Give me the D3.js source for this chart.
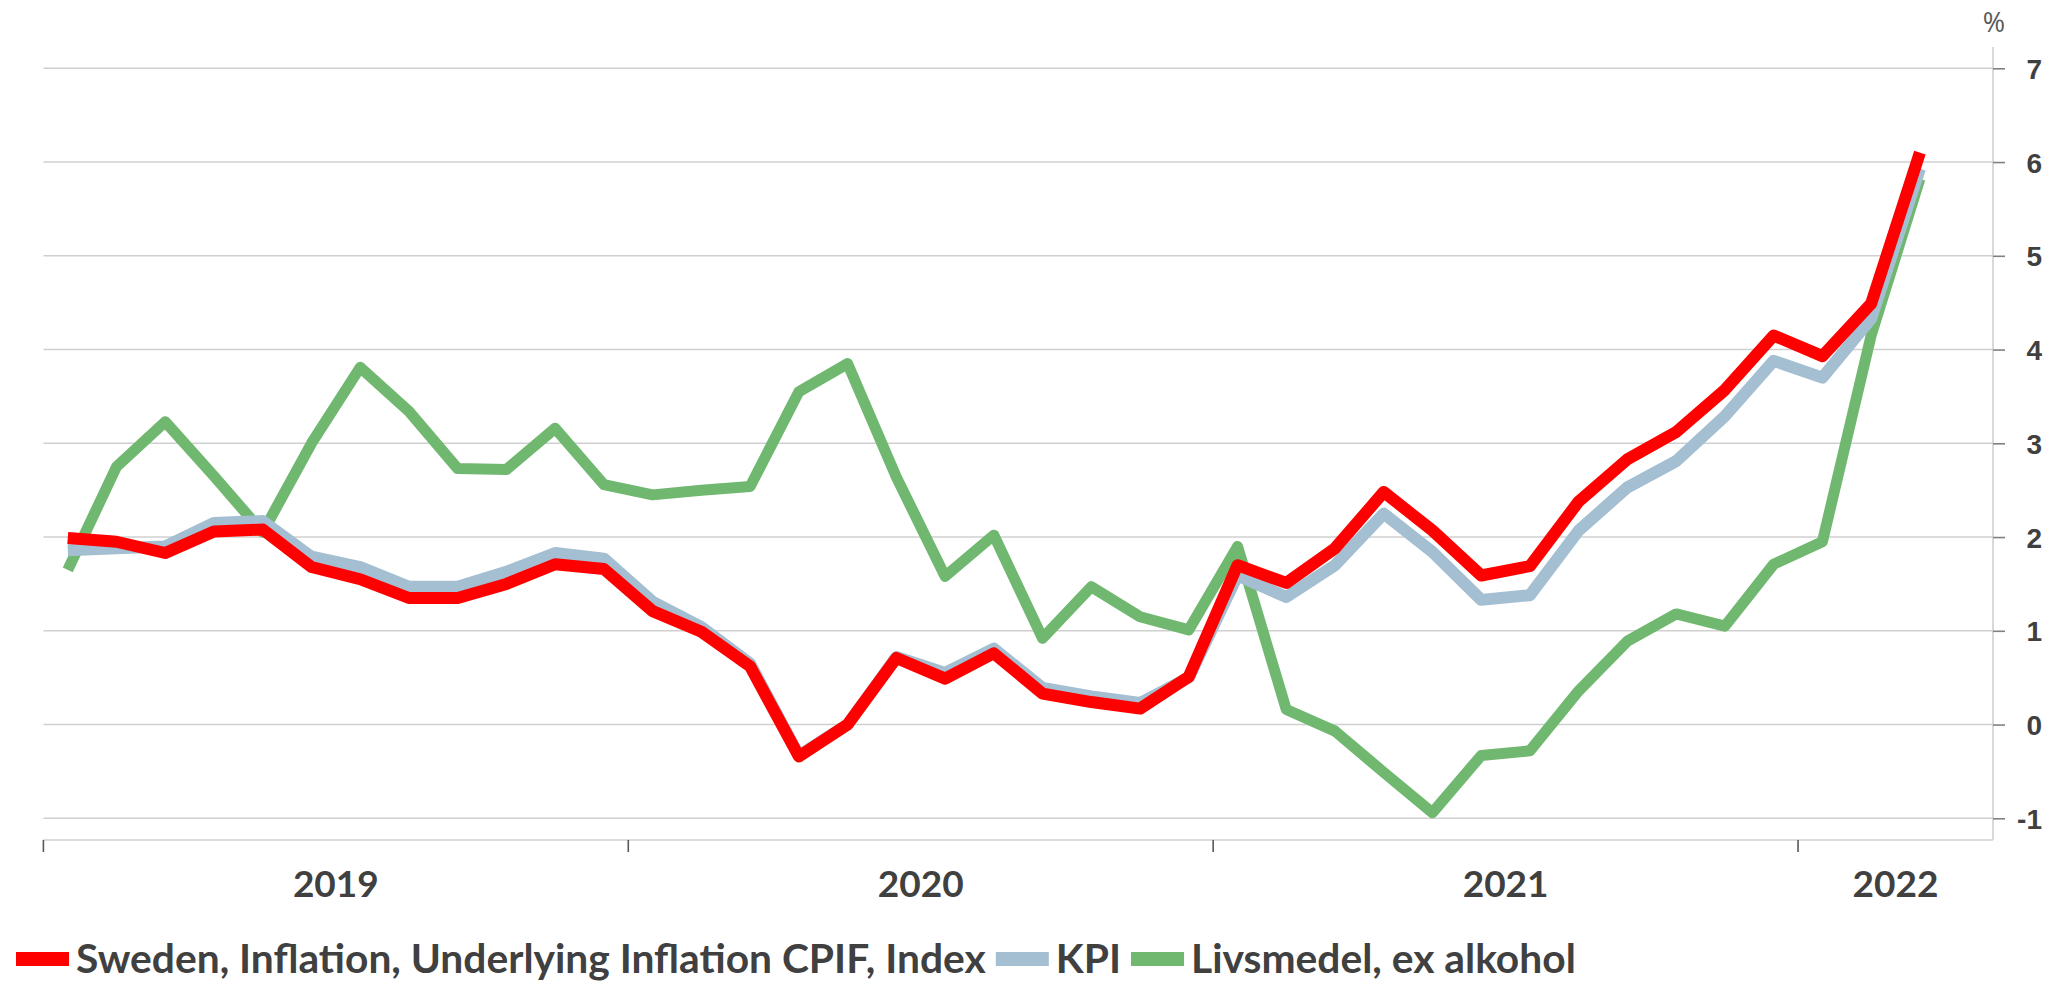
<!DOCTYPE html>
<html>
<head>
<meta charset="utf-8">
<script src="https://cdn.jsdelivr.net/npm/d3@7"></script>
<style>
  html, body { margin: 0; padding: 0; background: #ffffff; }
  svg { display: block; }
</style>
</head>
<body>
<svg id="chart" width="2064" height="983"></svg>
<script>
// ---------- DATA ----------
const months = [
  "2019-01","2019-02","2019-03","2019-04","2019-05","2019-06","2019-07","2019-08","2019-09","2019-10","2019-11","2019-12",
  "2020-01","2020-02","2020-03","2020-04","2020-05","2020-06","2020-07","2020-08","2020-09","2020-10","2020-11","2020-12",
  "2021-01","2021-02","2021-03","2021-04","2021-05","2021-06","2021-07","2021-08","2021-09","2021-10","2021-11","2021-12",
  "2022-01","2022-02","2022-03","2022-04"
];
const yearLabels = ["2019", "2020", "2021", "2022"];
const yTicks = [-1, 0, 1, 2, 3, 4, 5, 6, 7];
const seriesNames = ["Sweden, Inflation, Underlying Inflation CPIF, Index", "KPI", "Livsmedel, ex alkohol"];

const cpif = [1.99, 1.95, 1.83, 2.06, 2.08, 1.68, 1.55, 1.35, 1.35, 1.50, 1.71, 1.66,
              1.21, 0.99, 0.62, -0.34, 0.00, 0.71, 0.49, 0.76, 0.33, 0.24, 0.17, 0.51,
              1.70, 1.51, 1.88, 2.48, 2.07, 1.59, 1.69, 2.38, 2.83, 3.12, 3.57, 4.15,
              3.93, 4.49, 6.10];
const kpi  = [1.86, 1.88, 1.90, 2.15, 2.17, 1.79, 1.68, 1.47, 1.47, 1.63, 1.83, 1.77,
              1.31, 1.04, 0.65, -0.33, 0.00, 0.72, 0.55, 0.81, 0.39, 0.30, 0.23, 0.50,
              1.59, 1.36, 1.70, 2.25, 1.84, 1.33, 1.38, 2.07, 2.53, 2.81, 3.29, 3.88,
              3.70, 4.33, 5.93];
const food = [1.65, 2.75, 3.23, 2.65, 2.05, 3.00, 3.81, 3.34, 2.73, 2.72, 3.16, 2.56,
              2.45, 2.50, 2.54, 3.55, 3.85, 2.64, 1.58, 2.02, 0.92, 1.47, 1.15, 1.01,
              1.90, 0.16, -0.07, -0.51, -0.94, -0.33, -0.28, 0.36, 0.89, 1.18, 1.05, 1.71,
              1.95, 4.15, 5.82];

// ---------- STYLE ----------
const colors = { cpif: "#ff0000", kpi: "#a4bed2", food: "#70b86f" };
const textColor = "#404040";
const gridColor = "#d0d0d0";

const svg = d3.select("#chart");
const plot = { left: 43.4, right: 1993, top: 47, bottom: 840 };

const x = d3.scaleBand().domain(months).range([plot.left, plot.right]).padding(0);
const y = d3.scaleLinear().domain([-1, 7]).range([818.3, 68.3]);
const cx = m => x(m) + x.bandwidth() / 2;

// gridlines
svg.append("g").selectAll("line").data(yTicks).join("line")
  .attr("x1", plot.left).attr("x2", plot.right)
  .attr("y1", d => y(d)).attr("y2", d => y(d))
  .attr("stroke", gridColor).attr("stroke-width", 1.6);

// plot border (right + bottom)
svg.append("line").attr("x1", plot.right).attr("x2", plot.right)
  .attr("y1", plot.top).attr("y2", plot.bottom)
  .attr("stroke", gridColor).attr("stroke-width", 1.6);
svg.append("line").attr("x1", plot.left).attr("x2", plot.right)
  .attr("y1", plot.bottom).attr("y2", plot.bottom)
  .attr("stroke", gridColor).attr("stroke-width", 1.6);

// x ticks at start of each year
const yearStarts = months.filter(m => m.endsWith("-01"));
svg.append("g").selectAll("line").data(yearStarts).join("line")
  .attr("x1", d => x(d)).attr("x2", d => x(d))
  .attr("y1", plot.bottom).attr("y2", plot.bottom + 12)
  .attr("stroke", "#595959").attr("stroke-width", 1.6);

// year labels centered in their span
svg.append("g").selectAll("text").data(yearLabels).join("text")
  .attr("x", yr => {
    const ms = months.filter(m => m.startsWith(yr));
    const a = x(ms[0]), b = x(ms[ms.length - 1]) + x.bandwidth();
    return (a + b) / 2;
  })
  .attr("y", 896.5)
  .attr("text-anchor", "middle")
  .attr("font-family", "Lato, sans-serif")
  .attr("font-weight", "bold")
  .attr("font-size", 37)
  .attr("fill", textColor)
  .text(d => d);

// y axis on the right
const yAxis = d3.axisRight(y).tickValues(yTicks).tickSize(12).tickPadding(10).tickFormat(d => String(d));
const gy = svg.append("g").attr("transform", `translate(${plot.right},0)`).call(yAxis);
gy.select(".domain").remove();
gy.selectAll(".tick line").attr("stroke", "#808080").attr("stroke-width", 1.6);
gy.selectAll(".tick text")
  .attr("x", 49)
  .attr("dy", "0.36em")
  .attr("text-anchor", "end")
  .attr("font-family", "'Liberation Sans', Arial, sans-serif")
  .attr("font-weight", "bold")
  .attr("font-size", 28)
  .attr("fill", textColor);

// unit label
svg.append("text")
  .attr("x", 1994).attr("y", 32)
  .attr("text-anchor", "middle")
  .attr("font-family", "'Open Sans', sans-serif")
  .attr("font-size", 27)
  .attr("fill", "#595959")
  .text("%");

// lines (green bottom, blue, red top)
const lineGen = d3.line().x((d, i) => cx(months[i])).y(d => y(d));
const layers = [
  { data: food, color: colors.food, width: 11 },
  { data: kpi, color: colors.kpi, width: 12 },
  { data: cpif, color: colors.cpif, width: 12 }
];
svg.append("g").selectAll("path").data(layers).join("path")
  .attr("d", d => lineGen(d.data))
  .attr("fill", "none")
  .attr("stroke", d => d.color)
  .attr("stroke-width", d => d.width)
  .attr("stroke-linejoin", "round")
  .attr("stroke-linecap", "butt");

// legend
const legendColors = [colors.cpif, colors.kpi, colors.food];
const legend = svg.append("g");
// fit font size so the first entry spans its width in the reference
const probe = legend.append("text")
  .attr("font-family", "Lato, sans-serif").attr("font-weight", "bold").attr("font-size", 40)
  .text(seriesNames[0]);
const w40 = probe.node().getComputedTextLength();
probe.remove();
const legendFs = 40 * 910 / w40;

let lx = 16;
seriesNames.forEach((name, i) => {
  legend.append("rect")
    .attr("x", lx).attr("y", 952).attr("width", 53).attr("height", 14)
    .attr("fill", legendColors[i]);
  const t = legend.append("text")
    .attr("x", lx + 60).attr("y", 973)
    .attr("font-family", "Lato, sans-serif")
    .attr("font-weight", "bold")
    .attr("font-size", legendFs)
    .attr("fill", textColor)
    .text(name);
  lx = lx + 60 + t.node().getComputedTextLength() + 10;
});
</script>
</body>
</html>
